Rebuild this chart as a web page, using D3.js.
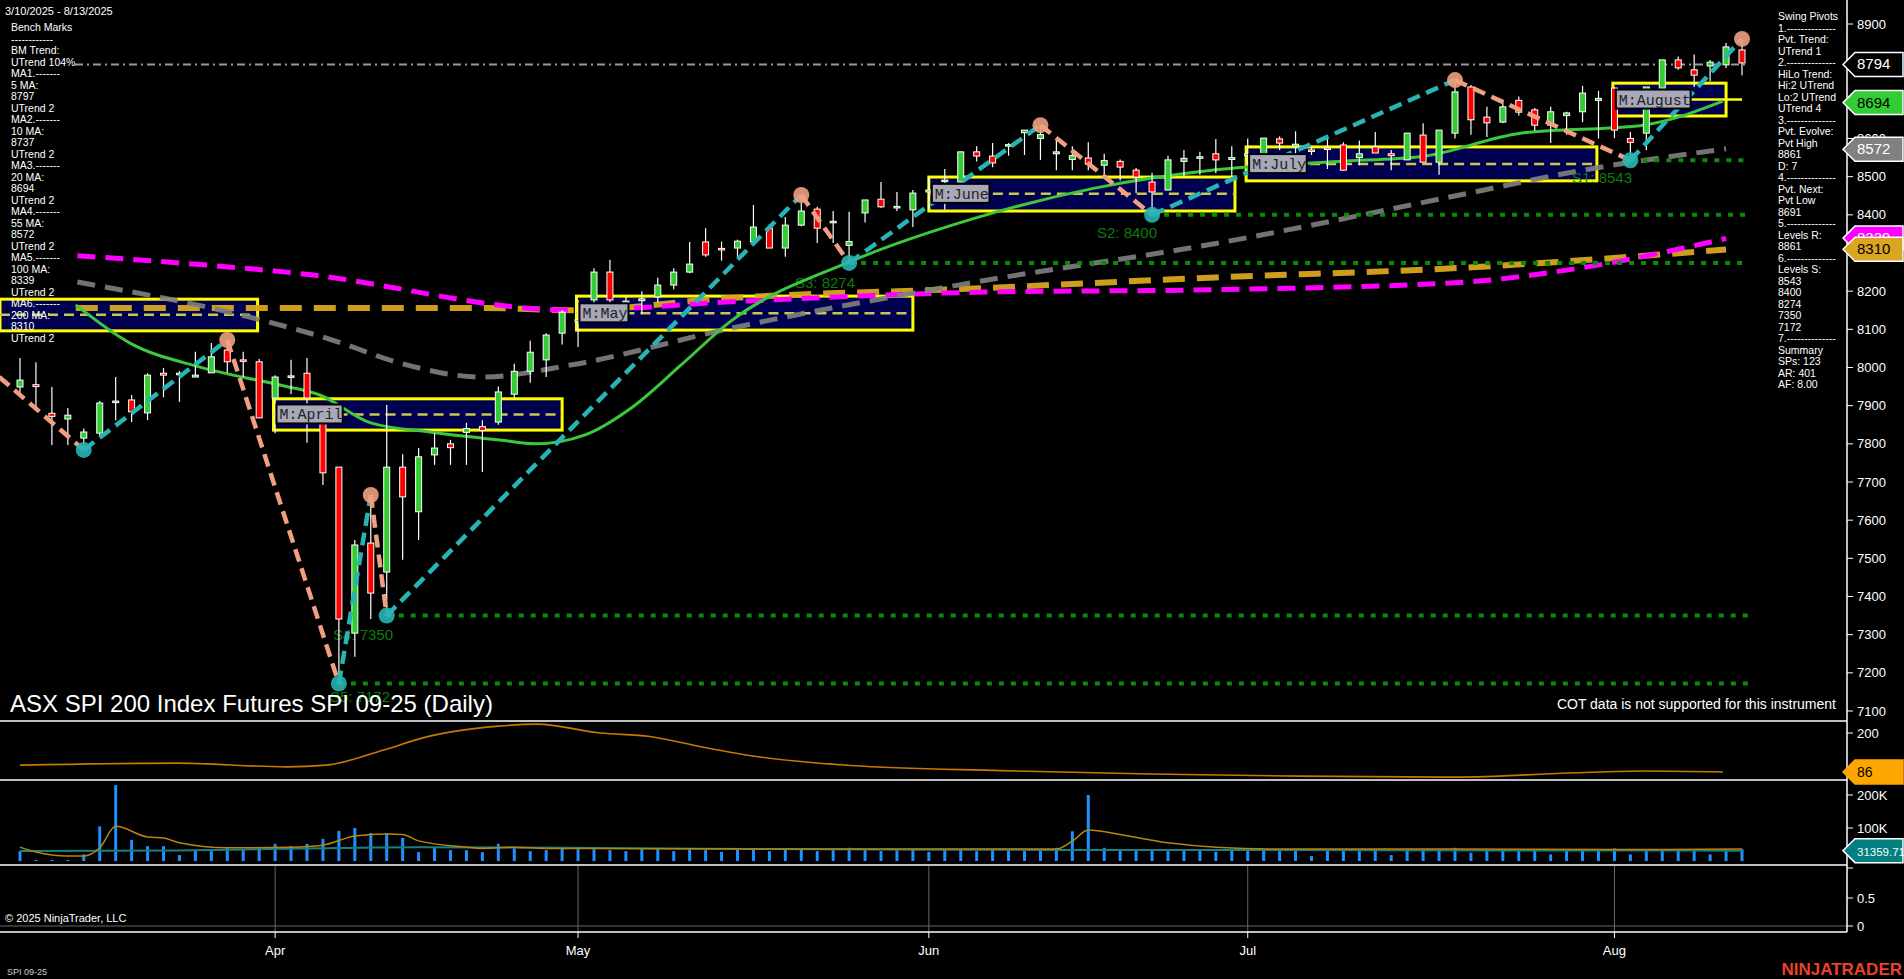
<!DOCTYPE html>
<html><head><meta charset="utf-8">
<script src="https://cdn.jsdelivr.net/npm/d3@7/dist/d3.min.js"></script>
<style>html,body{margin:0;background:#000;overflow:hidden}svg{display:block}</style>
</head><body><svg id="c" width="1904" height="979"></svg>
<script>
// ---- data ----
const months = [{label:"Apr",i:16},{label:"May",i:35},{label:"Jun",i:57},{label:"Jul",i:77},{label:"Aug",i:100}];
const open  = [7949,7955,7880,7865,7815,7828,7912,7915,7881,7985,7985,7975,7986,8046,8020,8015,7920,7975,7985,7881,7739,7304,7540,7464,7739,7622,7771,7800,7830,7845,7857,7930,7990,8020,8090,8120,8177,8250,8170,8175,8185,8216,8250,8329,8312,8313,8329,8365,8313,8373,8415,8380,8320,8405,8441,8420,8413,8460,8488,8486,8565,8554,8580,8615,8600,8560,8545,8549,8530,8540,8517,8486,8465,8540,8550,8560,8545,8555,8544,8599,8580,8570,8575,8583,8550,8578,8560,8544,8609,8538,8614,8735,8656,8643,8700,8675,8635,8660,8670,8700,8732,8600,8614,8732,8806,8780,8790,8793,8832];
const high  = [8025,8014,7949,7894,7840,7912,7975,7928,7985,7999,7991,8041,8064,8072,8041,8022,7980,8020,8025,7890,7739,7548,7666,7902,7773,7789,7828,7810,7855,7862,7950,8010,8070,8090,8150,8177,8260,8282,8185,8200,8235,8260,8329,8365,8330,8335,8426,8375,8394,8452,8421,8410,8408,8439,8486,8460,8465,8499,8520,8565,8580,8588,8588,8622,8635,8596,8580,8590,8560,8545,8523,8510,8555,8570,8565,8599,8580,8600,8601,8605,8619,8578,8600,8590,8595,8617,8570,8614,8640,8622,8753,8740,8683,8700,8710,8680,8683,8670,8738,8725,8735,8617,8735,8806,8815,8820,8806,8850,8861];
const low   = [7923,7889,7797,7797,7784,7820,7862,7857,7862,7922,7910,7975,7986,7986,7975,7868,7828,7930,7803,7692,7172,7242,7341,7350,7496,7548,7745,7745,7745,7726,7850,7920,7960,7975,8060,8054,8150,8170,8150,8140,8170,8205,8247,8290,8280,8290,8326,8313,8290,8370,8326,8326,8274,8380,8418,8410,8368,8413,8413,8486,8540,8525,8555,8557,8544,8517,8517,8517,8498,8490,8457,8400,8465,8500,8505,8509,8500,8530,8544,8570,8544,8557,8520,8517,8530,8562,8517,8544,8538,8505,8600,8610,8604,8640,8660,8620,8588,8610,8643,8600,8601,8543,8570,8732,8780,8735,8750,8785,8766];
const close = [7967,7950,7872,7875,7831,7907,7912,7884,7980,7980,7985,7980,8028,8015,8018,7868,7975,7978,7920,7724,7341,7535,7409,7739,7661,7766,7789,7790,7840,7835,7936,7990,8040,8085,8145,8125,8250,8177,8174,8180,8216,8250,8271,8295,8308,8331,8368,8313,8373,8410,8365,8383,8330,8439,8421,8422,8457,8465,8491,8565,8554,8536,8584,8622,8610,8565,8555,8533,8542,8525,8499,8460,8544,8548,8552,8544,8550,8560,8601,8588,8585,8568,8572,8517,8560,8562,8555,8614,8538,8622,8722,8649,8641,8683,8669,8635,8670,8667,8719,8705,8622,8590,8735,8806,8785,8766,8800,8840,8798];
const volumeK = [30,3,3,3,20,105,230,64,45,45,18,33,30,39,36,39,52,45,52,67,91,100,85,85,70,27,39,33,33,27,52,39,30,33,39,36,36,33,30,36,38,30,36,33,28,36,34,30,36,38,30,33,40,36,30,33,36,28,34,36,30,36,33,30,36,40,90,200,40,36,33,36,30,36,33,28,36,34,36,30,36,15,36,36,30,36,18,36,36,36,40,25,36,36,36,30,20,36,36,36,38,20,36,36,36,36,20,36,36];
const volAvgK = [[0,42],[1,27],[3,15],[4,15],[5,40],[6,105],[8,73],[9,70],[10,55],[13,40],[17,42],[19,48],[21,76],[23,82],[24,80],[25,61],[28,42],[29,38],[31,42],[33,38],[36,38],[50,36],[65,36],[66,60],[67,94],[69,80],[72,55],[75,42],[80,36],[90,36],[100,35],[108,36]];
const volSlowK = [[0,30],[10,32],[25,42],[40,38],[60,34],[80,33],[108,31.4]];
const cciLine = [[0,106],[9.8,112],[16.7,101],[19.2,106],[22.8,150],[25.2,185],[30,220],[32.4,226],[36.4,200],[39.5,190],[42.7,160],[46.4,130],[52.1,105],[61.5,90],[70.9,80],[80.3,74],[90,71],[97.2,83],[102,89],[106.8,86]];
const ma20  = [[3.5,8164],[6.9,8064],[11.3,8001],[16.3,7954],[18.8,7928],[22,7855],[25.7,7831],[30.1,7810],[32.3,7800],[35.4,7823],[38.4,7896],[41.5,8008],[44.5,8119],[52.1,8278],[59.8,8390],[67.4,8470],[75,8518],[82.7,8540],[87.8,8552],[94.1,8614],[101.8,8635],[106.8,8698]];
const ma55  = [[3.6,8224],[14.4,8132],[19.6,8072],[23.8,8012],[29,7975],[34.6,8007],[44.5,8102],[59.8,8223],[75,8325],[90.3,8452],[97.9,8516],[107,8573]];
const ma100 = [[3.6,8293],[17.8,8245],[34.6,8150],[44.5,8172],[59.8,8197],[75,8204],[90.3,8223],[97.9,8261],[107,8338]];
const ma200 = [[3.5,8156],[29,8156],[34.6,8150],[44.5,8182],[59.8,8207],[75,8236],[90.3,8261],[107,8309]];
const pivots = [[-1.3,7975],[4,7784],[13,8072],[20,7172],[22,7666],[23,7350],[49,8452],[52,8274],[64,8635],[71,8400],[90,8753],[101,8543],[108,8861]];
const supports = [{name:"S1: 8543",v:8543,i:101,lx:1572,ly:183},{name:"S2: 8400",v:8400,i:71,lx:1097,ly:238},{name:"S3: 8274",v:8274,i:52,lx:795,ly:288},{name:"S4: 7350",v:7350,i:23,lx:333,ly:640},{name:"S5: 7172",v:7172,i:20,lx:330,ly:702}];
const monthBoxes = [{name:"M:March",i0:-1.3,i1:14.9,hi:8179,lo:8096,mid:8138},{name:"M:April",i0:15.9,i1:34,hi:7918,lo:7836,mid:7877},{name:"M:May",i0:34.9,i1:56,hi:8187,lo:8098,mid:8142},{name:"M:June",i0:57,i1:76.2,hi:8499,lo:8410,mid:8455},{name:"M:July",i0:76.9,i1:98.9,hi:8578,lo:8489,mid:8533},{name:"M:August",i0:99.9,i1:107,hi:8745,lo:8659,mid:8702}];
const priceTicks = [8900,8800,8700,8600,8500,8400,8300,8200,8100,8000,7900,7800,7700,7600,7500,7400,7300,7200,7100];
const bmLevel = 8794;
const leftText = ["Bench Marks","------------","BM Trend:","UTrend 104%","MA1.-------","5 MA:","8797","UTrend 2","MA2.-------","10 MA:","8737","UTrend 2","MA3.-------","20 MA:","8694","UTrend 2","MA4.-------","55 MA:","8572","UTrend 2","MA5.-------","100 MA:","8339","UTrend 2","MA6.-------","200 MA:","8310","UTrend 2"];
const rightText = ["Swing Pivots","1.--------------","Pvt. Trend:","UTrend 1","2.--------------","HiLo Trend:","Hi:2 UTrend","Lo:2 UTrend","UTrend 4","3.--------------","Pvt. Evolve:","Pvt High","8861","D: 7","4.--------------","Pvt. Next:","Pvt Low","8691","5.--------------","Levels R:","8861","6.--------------","Levels S:","8543","8400","8274","7350","7172","7.--------------","Summary","SPs: 123","AR: 401","AF: 8.00"];
const tags = [{v:8794,t:"8794",fill:"#000",stroke:"#fff",tc:"#fff"},{v:8694,t:"8694",fill:"#32cd32",stroke:"#fff",tc:"#000"},{v:8572,t:"8572",fill:"#808080",stroke:"#fff",tc:"#fff"},{v:8339,t:"8339",fill:"#ff00ff",stroke:"#fff",tc:"#fff"},{v:8310,t:"8310",fill:"#daa520",stroke:"#fff",tc:"#000"}];

// ---- scales ----
const svg = d3.select("#c");
const AX = 1847;
const x = d3.scaleLinear().domain([0,108]).range([20,1742]);
const y = d3.scaleLinear().domain([7100,8900]).range([711,24]);
const yC = d3.scaleLinear().domain([86,200]).range([772,733]);
const yV = d3.scaleLinear().domain([0,200]).range([861,795]);
const y4 = d3.scaleLinear().domain([0,0.5]).range([926,898]);
const line = (sy)=>d3.line().x(d=>x(d[0])).y(d=>sy(d[1])).curve(d3.curveMonotoneX);

const main = svg.append("g").attr("clip-path","url(#cm)");
svg.append("clipPath").attr("id","cm").append("rect").attr("x",0).attr("y",0).attr("width",AX).attr("height",720);

monthBoxes.forEach(b=>{
  const x0=Math.max(0,x(b.i0)), x1=x(b.i1);
  main.append("rect").attr("x",x0).attr("y",y(b.hi)).attr("width",x1-x0).attr("height",y(b.lo)-y(b.hi))
    .attr("fill","#000050").attr("stroke","#ffff00").attr("stroke-width",3);
  main.append("line").attr("x1",x0).attr("x2",x1+(b.name==="M:August"?16:0)).attr("y1",y(b.mid)).attr("y2",y(b.mid))
    .attr("stroke",b.name==="M:August"?"#ffff00":"#c8c850").attr("stroke-width",2.5).attr("stroke-dasharray",b.name==="M:August"?null:"10,6");
});
main.append("path").datum(ma200).attr("d",line(y)).attr("fill","none").attr("stroke","#daa520").attr("stroke-width",6).attr("stroke-dasharray","22,12").attr("opacity",0.95);
main.append("path").datum(ma100).attr("d",line(y)).attr("fill","none").attr("stroke","#ff00ff").attr("stroke-width",5).attr("stroke-dasharray","18,10");
main.append("path").datum(ma55).attr("d",line(y)).attr("fill","none").attr("stroke","#808080").attr("stroke-width",5).attr("stroke-dasharray","18,10").attr("opacity",0.9);
supports.forEach(s=>{
  main.append("line").attr("x1",x(s.i)).attr("x2",1748).attr("y1",y(s.v)).attr("y2",y(s.v))
    .attr("stroke","#0a8c0a").attr("stroke-width",4).attr("stroke-dasharray","5,7");
  main.append("text").attr("x",s.lx).attr("y",s.ly).attr("fill","#0e7a0e").attr("font-family","Arial").attr("font-size",15).text(s.name);
});
main.append("line").attr("x1",75).attr("x2",1745).attr("y1",y(bmLevel)).attr("y2",y(bmLevel))
  .attr("stroke","#9a9a9a").attr("stroke-width",2).attr("stroke-dasharray","8,4,2,4");
main.append("path").datum(ma20).attr("d",line(y)).attr("fill","none").attr("stroke","#3cc83c").attr("stroke-width",3);
const idx = d3.range(open.length);
main.selectAll(".wk").data(idx).join("line").attr("x1",i=>x(i)).attr("x2",i=>x(i)).attr("y1",i=>y(high[i])).attr("y2",i=>y(low[i])).attr("stroke","#fff").attr("stroke-width",1.2);
main.selectAll(".bd").data(idx).join("rect").attr("x",i=>x(i)-3).attr("width",6)
  .attr("y",i=>y(Math.max(open[i],close[i]))).attr("height",i=>Math.max(1.5,Math.abs(y(open[i])-y(close[i]))))
  .attr("fill",i=>close[i]>=open[i]?"#32cd32":"#ff0000").attr("stroke","#fff").attr("stroke-width",1);
for(let k=0;k<pivots.length-1;k++){
  const a=pivots[k],b=pivots[k+1], up=b[1]>a[1];
  main.append("line").attr("x1",x(a[0])).attr("y1",y(a[1])).attr("x2",x(b[0])).attr("y2",y(b[1]))
    .attr("stroke",up?"#28b4b4":"#f0a080").attr("stroke-width",4.5).attr("stroke-dasharray","13,7");
}
pivots.slice(1).forEach((p,k)=>{
  const isHigh = k%2===1;
  main.append("circle").attr("cx",x(p[0])).attr("cy",y(p[1])).attr("r",8).attr("fill",isHigh?"#f0a080":"#28b4b4").attr("opacity",0.9);
});
monthBoxes.forEach(b=>{
  const x0=Math.max(0,x(b.i0))+3;
  if(b.name==="M:March") return;
  const w=b.name.length*8.6+6;
  main.append("rect").attr("x",x0).attr("y",y(b.mid)-10).attr("width",w).attr("height",19).attr("fill","#a8a8b8").attr("stroke","#000").attr("stroke-width",2);
  main.append("text").attr("x",x0+3).attr("y",y(b.mid)+5).attr("font-family","'Liberation Mono','DejaVu Sans Mono',monospace").attr("font-size",15).attr("fill","#222").text(b.name);
});

svg.append("path").datum(cciLine).attr("d",line(yC)).attr("fill","none").attr("stroke","#c87800").attr("stroke-width",1.6);
svg.selectAll(".vb").data(idx).join("rect").attr("x",i=>x(i)-1.5).attr("width",3).attr("y",i=>yV(volumeK[i])).attr("height",i=>yV(0)-yV(volumeK[i])).attr("fill","#1e90ff");
svg.append("path").datum(volSlowK).attr("d",line(yV)).attr("fill","none").attr("stroke","#1a7f7f").attr("stroke-width",2);
svg.append("path").datum(volAvgK).attr("d",line(yV)).attr("fill","none").attr("stroke","#b8860b").attr("stroke-width",1.5);
svg.append("line").attr("x1",0).attr("x2",AX).attr("y1",y4(0)).attr("y2",y4(0)).attr("stroke","#666");
months.forEach(m=>svg.append("line").attr("x1",x(m.i)).attr("x2",x(m.i)).attr("y1",866).attr("y2",932).attr("stroke","#666"));

[721,780,865,932].forEach(v=>svg.append("line").attr("x1",0).attr("x2",AX).attr("y1",v).attr("y2",v).attr("stroke","#fff").attr("stroke-width",1.5));
svg.append("line").attr("x1",AX).attr("x2",AX).attr("y1",0).attr("y2",932).attr("stroke","#fff").attr("stroke-width",1.5);
const tx = (g,sc,vals,fmt)=>vals.forEach(v=>{
  g.append("line").attr("x1",AX).attr("x2",AX+6).attr("y1",sc(v)).attr("y2",sc(v)).attr("stroke","#fff");
  g.append("text").attr("x",AX+10).attr("y",sc(v)+4.5).attr("fill","#fff").attr("font-family","Arial").attr("font-size",13).text(fmt(v));
});
tx(svg,y,priceTicks,d=>d);
tx(svg,yC,[200],d=>d);
tx(svg,yV,[200,100],d=>d+"K");
tx(svg,y4,[0.5,0],d=>d);
svg.append("line").attr("x1",AX).attr("x2",AX+6).attr("y1",868).attr("y2",868).attr("stroke","#fff");
months.forEach(m=>{
  svg.append("line").attr("x1",x(m.i)).attr("x2",x(m.i)).attr("y1",932).attr("y2",938).attr("stroke","#fff");
  svg.append("text").attr("x",x(m.i)).attr("y",955).attr("text-anchor","middle").attr("fill","#fff").attr("font-family","Arial").attr("font-size",13).text(m.label);
});
function tag(yy,t,fill,stroke,tc,fs){
  svg.append("path").attr("d",`M${AX-4},${yy} L${AX+8},${yy-12} L1903,${yy-12} L1903,${yy+12} L${AX+8},${yy+12} Z`).attr("fill",fill).attr("stroke",stroke).attr("stroke-width",1.5);
  svg.append("text").attr("x",AX+10).attr("y",yy+5).attr("fill",tc).attr("font-family","Arial").attr("font-size",fs||15).text(t);
}
tags.forEach(t=>tag(y(t.v),t.t,t.fill,t.stroke,t.tc));
tag(yC(86),"86","#ffa500","#ffa500","#000",14);
tag(yV(31.36),"31359.71","#008080","#fff","#fff",11.5);

const T=(xx,yy,s,sz,c,anchor)=>svg.append("text").attr("x",xx).attr("y",yy).attr("fill",c||"#fff").attr("font-family","Arial").attr("font-size",sz).attr("text-anchor",anchor||"start").text(s);
T(5,15,"3/10/2025 - 8/13/2025",11);
leftText.forEach((s,k)=>T(11,31+k*11.5,s,10.5));
rightText.forEach((s,k)=>T(1778,20+k*11.5,s,10.5));
T(10,712,"ASX SPI 200 Index Futures SPI 09-25 (Daily)",24);
T(1836,709,"COT data is not supported for this instrument",14,"#fff","end");
T(5,922,"© 2025 NinjaTrader, LLC",11);
T(7,975,"SPI 09-25",9,"#ccc");
T(1902,975,"NINJATRADER",17,"#e8432a","end").attr("font-weight","bold");
</script></body></html>
